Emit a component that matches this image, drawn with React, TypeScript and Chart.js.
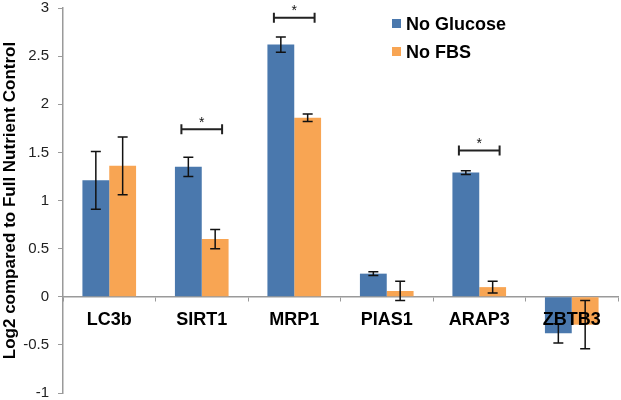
import React, { useEffect, useRef } from "react";
import { Chart, registerables } from "chart.js";

Chart.register(...registerables);

const categories = ["LC3b", "SIRT1", "MRP1", "PIAS1", "ARAP3", "ZBTB3"];
const seriesNames = ["No Glucose", "No FBS"];
const noGlucose = [1.21, 1.35, 2.62, 0.24, 1.29, -0.38];
const noGlucoseErr = [0.3, 0.1, 0.08, 0.02, 0.02, 0.1];
const noFbs = [1.36, 0.6, 1.86, 0.06, 0.1, -0.29];
const noFbsErr = [0.3, 0.1, 0.04, 0.1, 0.06, 0.25];
const sigCategories = ["SIRT1", "MRP1", "ARAP3"];
const sigLevels = [1.74, 2.9, 1.52];
const yMin = -1;
const yMax = 3;
const yStep = 0.5;

const BLUE = "#4A78AD";
const ORANGE = "#F8A553";
const FONT = "'Liberation Sans', Arial, Helvetica, sans-serif";

const errors = [noGlucoseErr, noFbsErr];

const overlayPlugin = {
  id: "overlay",
  afterDatasetsDraw(chart: any) {
    const ctx = chart.ctx;
    const y = chart.scales.y;
    const x = chart.scales.x;
    ctx.save();
    ctx.strokeStyle = "#111";
    ctx.lineWidth = 1.5;
    chart.data.datasets.forEach((ds: any, di: number) => {
      const meta = chart.getDatasetMeta(di);
      meta.data.forEach((bar: any, i: number) => {
        const v = ds.data[i];
        const e = errors[di][i];
        const yt = y.getPixelForValue(v + e);
        const yb = y.getPixelForValue(v - e);
        const cx = bar.x;
        const cap = 5;
        ctx.beginPath();
        ctx.moveTo(cx, yt);
        ctx.lineTo(cx, yb);
        ctx.moveTo(cx - cap, yt);
        ctx.lineTo(cx + cap, yt);
        ctx.moveTo(cx - cap, yb);
        ctx.lineTo(cx + cap, yb);
        ctx.stroke();
      });
    });
    const catW = x.getPixelForValue(1) - x.getPixelForValue(0);
    ctx.strokeStyle = "#222";
    ctx.lineWidth = 2;
    ctx.fillStyle = "#111";
    ctx.font = `14px ${FONT}`;
    ctx.textAlign = "center";
    ctx.textBaseline = "middle";
    sigCategories.forEach((c, k) => {
      const idx = categories.indexOf(c);
      const cx = x.getPixelForValue(idx);
      const py = y.getPixelForValue(sigLevels[k]);
      const x1 = cx - catW * 0.22;
      const x2 = cx + catW * 0.22;
      ctx.beginPath();
      ctx.moveTo(x1, py);
      ctx.lineTo(x2, py);
      ctx.moveTo(x1, py - 5);
      ctx.lineTo(x1, py + 5);
      ctx.moveTo(x2, py - 5);
      ctx.lineTo(x2, py + 5);
      ctx.stroke();
      ctx.fillText("*", cx, py - 6);
    });
    ctx.restore();
  },
  afterDraw(chart: any) {
    const ctx = chart.ctx;
    ctx.save();
    const colors = [BLUE, ORANGE];
    chart.data.datasets.forEach((ds: any, i: number) => {
      const top = 19 + i * 28;
      ctx.fillStyle = colors[i];
      ctx.fillRect(392, top, 9, 9);
      ctx.fillStyle = "#000";
      ctx.font = `bold 18px ${FONT}`;
      ctx.textAlign = "left";
      ctx.textBaseline = "middle";
      ctx.fillText(ds.label, 406, top + 6);
    });
    ctx.restore();
  },
};

export default function App() {
  const ref = useRef<HTMLCanvasElement | null>(null);
  useEffect(() => {
    if (!ref.current) return;
    const chart = new Chart(ref.current, {
      type: "bar",
      data: {
        labels: categories,
        datasets: [
          {
            label: seriesNames[0],
            data: noGlucose,
            backgroundColor: BLUE,
            categoryPercentage: 0.58,
            barPercentage: 1,
          },
          {
            label: seriesNames[1],
            data: noFbs,
            backgroundColor: ORANGE,
            categoryPercentage: 0.58,
            barPercentage: 1,
          },
        ],
      },
      options: {
        animation: false,
        responsive: true,
        maintainAspectRatio: false,
        layout: { padding: { top: 8, right: 3, bottom: 7, left: 0 } },
        plugins: {
          legend: { display: false },
          tooltip: { enabled: false },
        },
        scales: {
          x: {
            position: { y: 0 } as any,
            afterFit: (s: any) => {
              s.height = 0;
              s.paddingTop = 0;
              s.paddingBottom = 0;
            },
            grid: {
              offset: true,
              drawOnChartArea: false,
              drawTicks: true,
              tickLength: 4,
              color: "#9a9a9a",
            },
            border: { color: "#9a9a9a", width: 1.5 },
            ticks: {
              z: 1,
              color: "#000",
              padding: 8,
              font: { family: FONT, size: 18, weight: "bold" },
              maxRotation: 0,
            },
          },
          y: {
            min: yMin,
            max: yMax,
            afterFit: (s: any) => {
              s.width = 63;
              s.paddingTop = 0;
              s.paddingBottom = 0;
            },
            ticks: {
              stepSize: yStep,
              color: "#222",
              padding: 9,
              font: { family: FONT, size: 15 },
              callback: (v: any) => String(Number(v)),
            },
            grid: {
              drawOnChartArea: false,
              drawTicks: true,
              tickLength: 5,
              color: "#9a9a9a",
            },
            border: { color: "#9a9a9a", width: 1.5 },
            title: {
              display: true,
              text: "Log2 compared to Full Nutrient Control",
              color: "#000",
              padding: 0,
              font: { family: FONT, size: 17, weight: "bold" },
            },
          },
        },
      },
      plugins: [overlayPlugin],
    });
    return () => chart.destroy();
  }, []);
  return (
    <div style={{ position: "fixed", left: 0, top: 0, width: 621, height: 400, background: "#fff" }}>
      <canvas ref={ref} />
    </div>
  );
}
